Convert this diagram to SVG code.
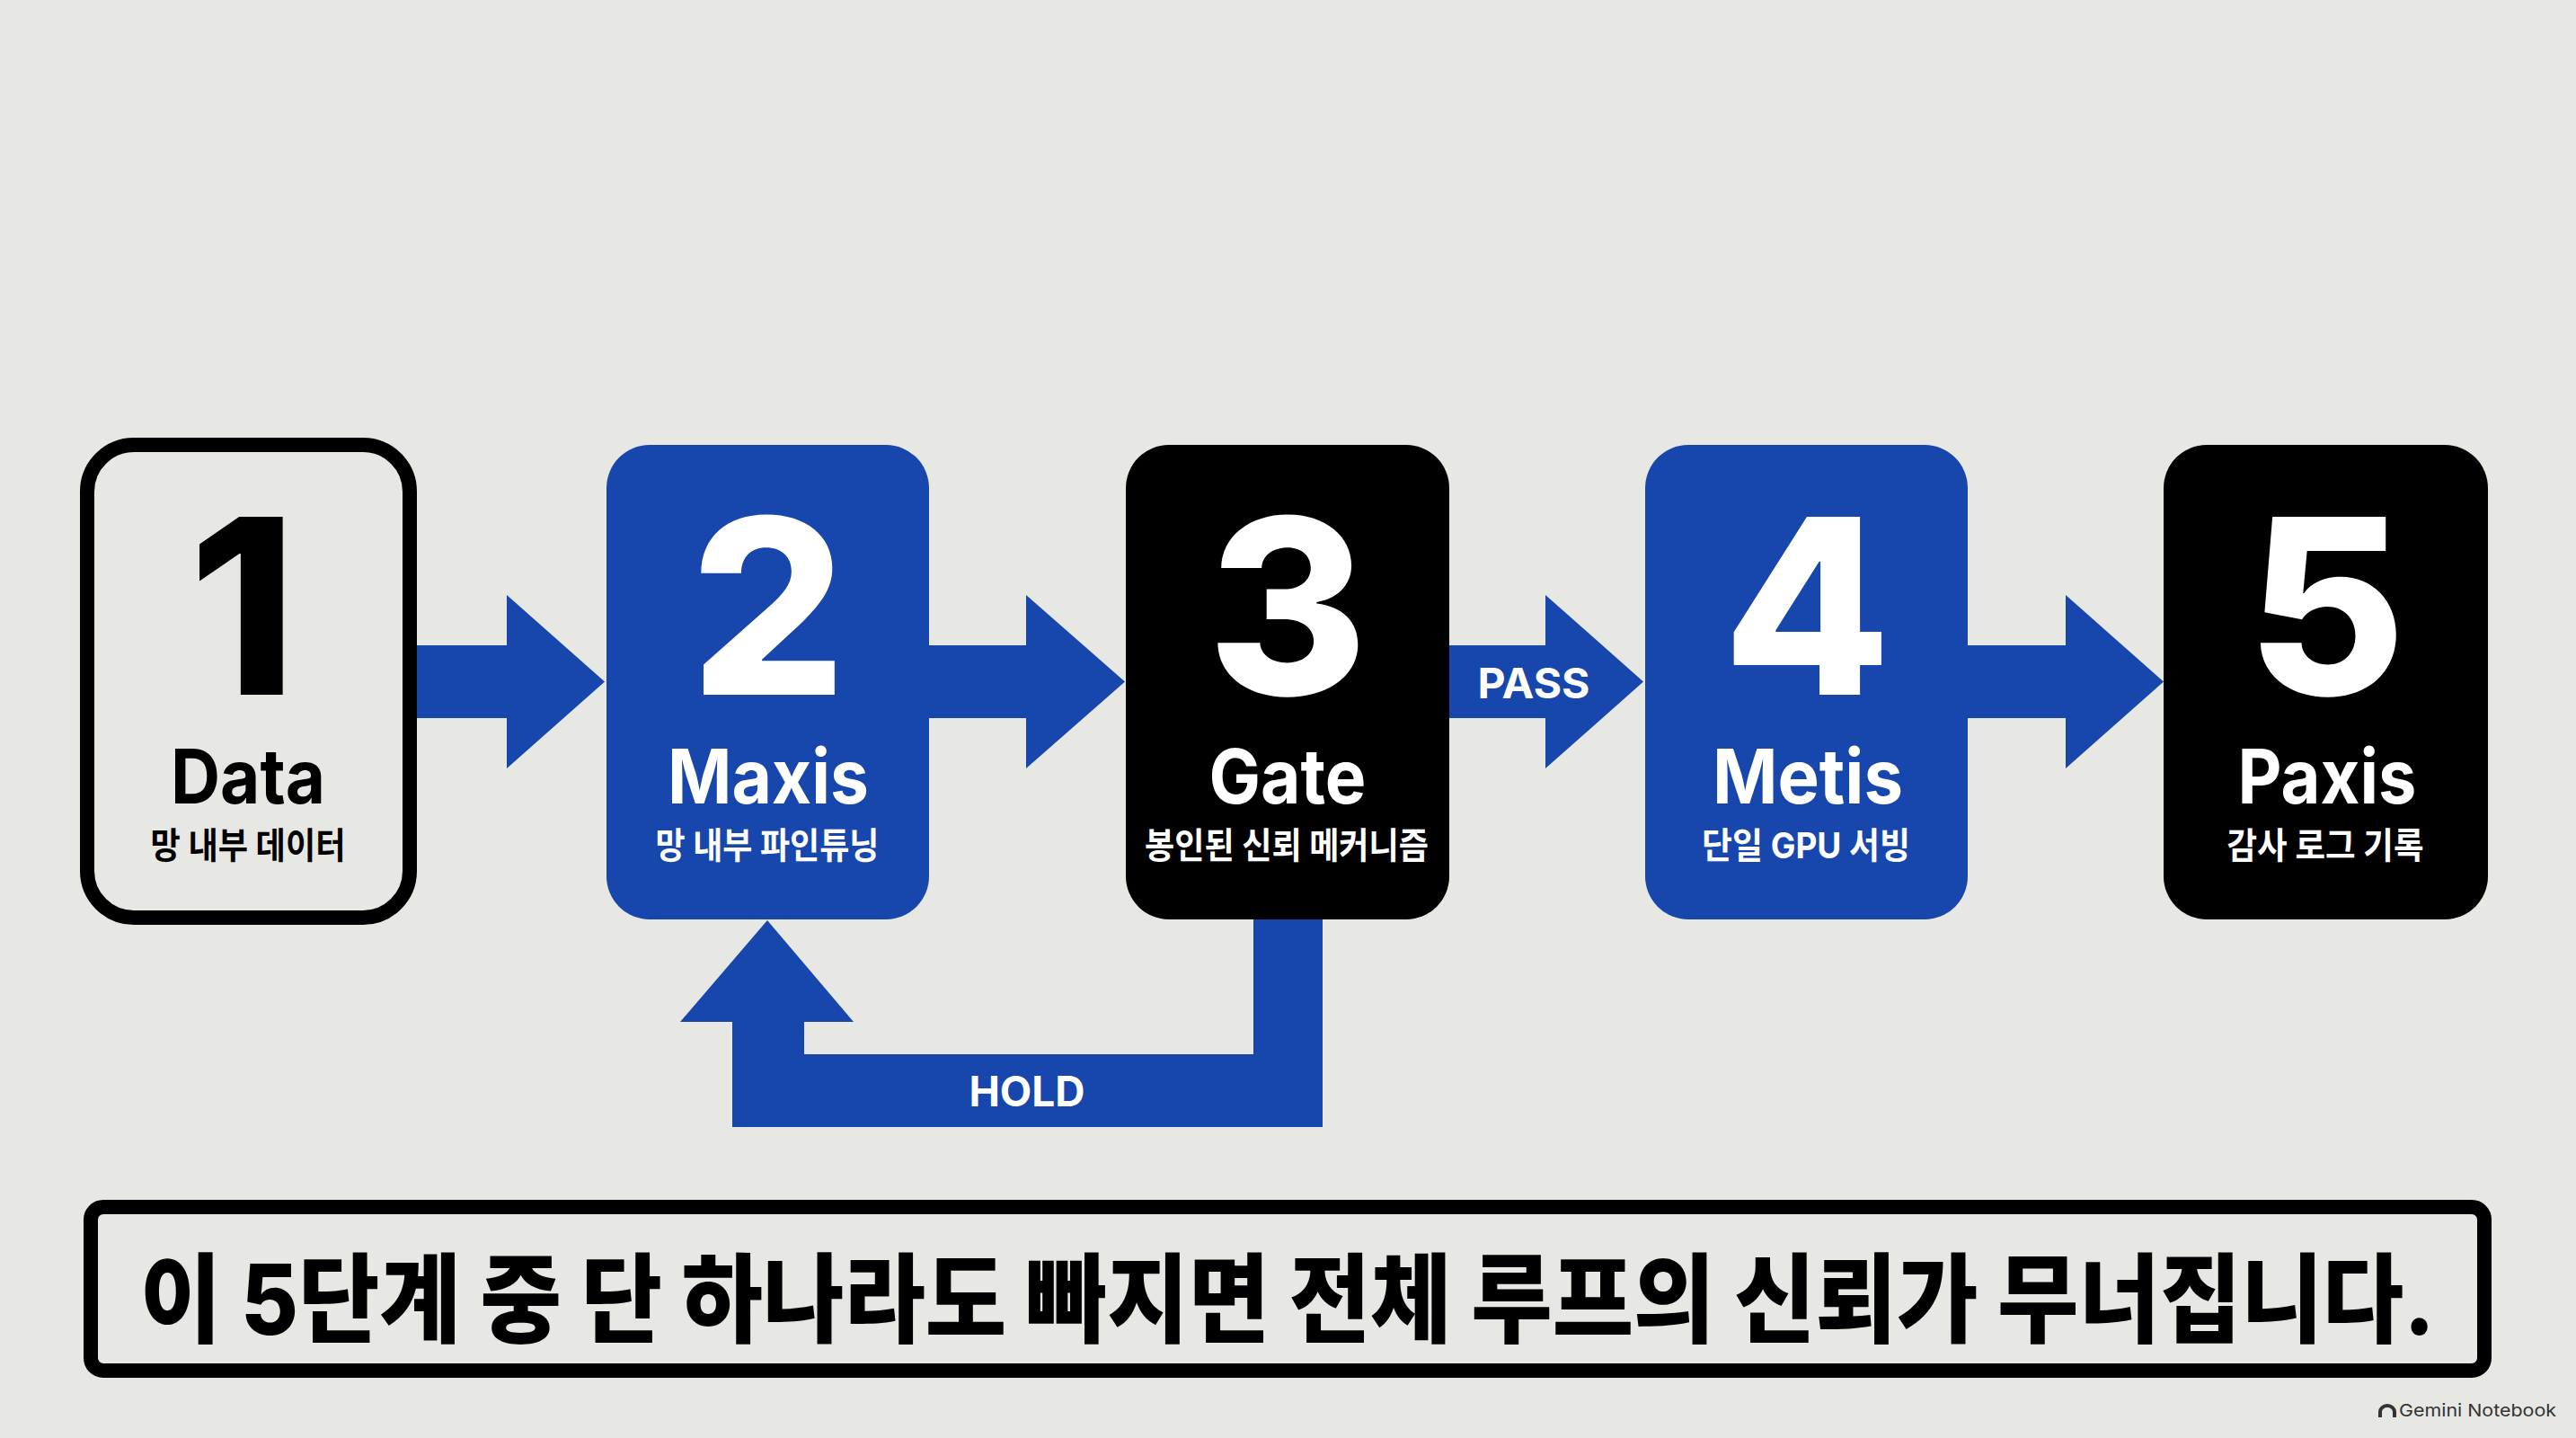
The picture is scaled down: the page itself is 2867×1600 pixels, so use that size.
<svg xmlns="http://www.w3.org/2000/svg" width="2867" height="1600" viewBox="0 0 2867 1600">
<style>
.bg{fill:#E7E7E3}
.blue{fill:#1747AD}
.blk{fill:#000}
.t{font-family:Inter,"Noto Sans CJK KR","Liberation Sans",sans-serif;text-anchor:middle}
.num{font-size:272px;font-weight:800}
.title{font-size:84px;font-weight:700}
.sub{font-size:40px;font-weight:700}
.lbl{font-size:46px;font-weight:700;fill:#fff}
.w{fill:#fff}
.k{fill:#000}
</style>
<rect class="bg" x="0" y="0" width="2867" height="1600"/>
<g id="connectors">
  <polygon class="blue" points="460,718 564,718 564,662 673,758.5 564,855 564,799 460,799"/>
  <polygon class="blue" points="1030,718 1142,718 1142,662 1252,758.5 1142,855 1142,799 1030,799"/>
  <polygon class="blue" points="1609,718 1720,718 1720,662 1829,758.5 1720,855 1720,799 1609,799"/>
  <polygon class="blue" points="2186,718 2299,718 2299,662 2408,758.5 2299,855 2299,799 2186,799"/>
  <text class="t lbl" x="1707" y="777" textLength="125" lengthAdjust="spacingAndGlyphs">PASS</text>
  <polygon class="blue" points="1395,1018 1472,1018 1472,1254 815,1254 815,1137 757,1137 854,1024 950,1137 895,1137 895,1173 1395,1173"/>
  <text class="t lbl" x="1143" y="1231" textLength="129" lengthAdjust="spacingAndGlyphs">HOLD</text>
</g>
<g id="node1">
  <rect x="97" y="495" width="359" height="526" rx="52" fill="none" stroke="#000" stroke-width="16"/>
  <text class="t num k" x="270" y="773">1</text>
  <text class="t title k" x="276" y="894" textLength="172" lengthAdjust="spacingAndGlyphs">Data</text>
  <text class="t sub k" x="276" y="955" textLength="217" lengthAdjust="spacingAndGlyphs">망 내부 데이터</text>
</g>
<g id="node2">
  <rect class="blue" x="675" y="495" width="359" height="528" rx="48"/>
  <text class="t num w" x="855" y="773">2</text>
  <text class="t title w" x="855" y="894" textLength="224" lengthAdjust="spacingAndGlyphs">Maxis</text>
  <text class="t sub w" x="854" y="955" textLength="249" lengthAdjust="spacingAndGlyphs">망 내부 파인튜닝</text>
</g>
<g id="node3">
  <rect class="blk" x="1253" y="495" width="360" height="528" rx="48"/>
  <text class="t num w" x="1433" y="773">3</text>
  <text class="t title w" x="1433" y="894" textLength="175" lengthAdjust="spacingAndGlyphs">Gate</text>
  <text class="t sub w" x="1432" y="955" textLength="316" lengthAdjust="spacingAndGlyphs">봉인된 신뢰 메커니즘</text>
</g>
<g id="node4">
  <rect class="blue" x="1831" y="495" width="359" height="528" rx="48"/>
  <text class="t num w" x="2011" y="773">4</text>
  <text class="t title w" x="2012" y="894" textLength="212" lengthAdjust="spacingAndGlyphs">Metis</text>
  <text class="t sub w" x="2010" y="955" textLength="232" lengthAdjust="spacingAndGlyphs">단일 GPU 서빙</text>
</g>
<g id="node5">
  <rect class="blk" x="2408" y="495" width="361" height="528" rx="48"/>
  <text class="t num w" x="2589" y="773">5</text>
  <text class="t title w" x="2590" y="894" textLength="199" lengthAdjust="spacingAndGlyphs">Paxis</text>
  <text class="t sub w" x="2588" y="955" textLength="219" lengthAdjust="spacingAndGlyphs">감사 로그 기록</text>
</g>
<g id="banner">
  <rect x="101" y="1343" width="2664" height="182" rx="14" fill="none" stroke="#000" stroke-width="16"/>
  <text class="t k" x="1433" y="1485" font-size="108" font-weight="800" textLength="2554" lengthAdjust="spacingAndGlyphs">이 5단계 중 단 하나라도 빠지면 전체 루프의 신뢰가 무너집니다.</text>
</g>
<g id="watermark">
  <path d="M2647,1577 v-6 a10,9 0 0 1 20,0 v6 h-4 v-6 a6,5 0 0 0 -12,0 v6 z" fill="#333"/>
  <text x="2670" y="1576" font-family="Inter,'Liberation Sans',sans-serif" font-size="19" fill="#333" textLength="175" lengthAdjust="spacingAndGlyphs">Gemini Notebook</text>
</g>
</svg>
